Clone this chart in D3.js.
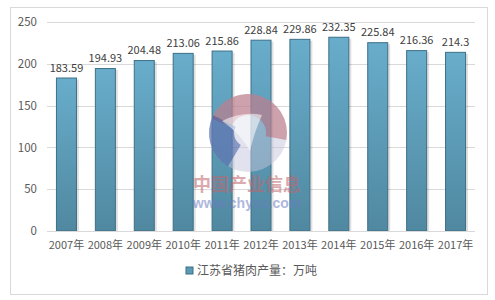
<!DOCTYPE html>
<html>
<head>
<meta charset="utf-8">
<script src="https://cdn.jsdelivr.net/npm/d3@7"></script>
<style>
  body { margin: 0; background: #fff; }
  text { font-family: "Noto Sans CJK SC", "Noto Sans", sans-serif; }
</style>
</head>
<body>
<svg id="chart" width="495" height="300"></svg>
<script>
// data
var years = ["2007年","2008年","2009年","2010年","2011年","2012年","2013年","2014年","2015年","2016年","2017年"];
var output = [183.59, 194.93, 204.48, 213.06, 215.86, 228.84, 229.86, 232.35, 225.84, 216.36, 214.3];
var yTicks = [0, 50, 100, 150, 200, 250];
var seriesName = "江苏省猪肉产量：万吨";

var svg = d3.select("#chart");
var margin = { left: 47, right: 20, top: 22, bottom: 69 };
var width = 495, height = 300;

// outer frame
svg.append("rect")
  .attr("x", 10.5).attr("y", 7.5)
  .attr("width", 477).attr("height", 287)
  .attr("fill", "#fff")
  .attr("stroke", "#d9d9d9");

var defs = svg.append("defs");
var grad = defs.append("linearGradient")
  .attr("id", "barGrad")
  .attr("x1", 0).attr("y1", 0).attr("x2", 0).attr("y2", 1);
grad.append("stop").attr("offset", "0%").attr("stop-color", "#68adcb");
grad.append("stop").attr("offset", "100%").attr("stop-color", "#5088a0");

var x = d3.scaleBand()
  .domain(years)
  .range([margin.left, width - margin.right])
  .paddingInner(0.46)
  .paddingOuter(0.23);

var y = d3.scaleLinear()
  .domain([0, 250])
  .range([height - margin.bottom, margin.top]);

// gridlines
svg.append("g")
  .selectAll("line")
  .data(yTicks)
  .enter()
  .append("line")
  .attr("x1", margin.left)
  .attr("x2", width - margin.right)
  .attr("y1", function (d) { return Math.round(y(d)) + 0.5; })
  .attr("y2", function (d) { return Math.round(y(d)) + 0.5; })
  .attr("stroke", "#d9d9d9");

// y axis labels
var yAxis = d3.axisLeft(y).tickValues(yTicks).tickSize(0).tickPadding(10);
var gy = svg.append("g")
  .attr("transform", "translate(" + margin.left + ",0)")
  .call(yAxis);
gy.select(".domain").remove();
gy.selectAll("text")
  .attr("font-size", 11.5)
  .attr("fill", "#595959")
  .style("font-family", "'Noto Sans CJK SC', sans-serif");

// bars
svg.append("g")
  .selectAll("rect")
  .data(output)
  .enter()
  .append("rect")
  .attr("x", function (d, i) { return x(years[i]) + 2; })
  .attr("y", function (d) { return y(d) + 2; })
  .attr("width", x.bandwidth())
  .attr("height", function (d) { return y(0) - y(d) - 2; })
  .attr("fill", "#000")
  .attr("opacity", 0.12);

svg.append("g")
  .selectAll("rect")
  .data(output)
  .enter()
  .append("rect")
  .attr("x", function (d, i) { return x(years[i]) + 0.5; })
  .attr("y", function (d) { return y(d) + 0.5; })
  .attr("width", x.bandwidth() - 1)
  .attr("height", function (d) { return y(0) - y(d) - 0.5; })
  .attr("fill", "url(#barGrad)")
  .attr("stroke", "#3e6f86")
  .attr("stroke-width", 1);

// value labels
svg.append("g")
  .selectAll("text")
  .data(output)
  .enter()
  .append("text")
  .attr("x", function (d, i) { return x(years[i]) + x.bandwidth() / 2; })
  .attr("y", function (d) { return y(d) - 6; })
  .attr("text-anchor", "middle")
  .attr("font-size", 11)
  .attr("fill", "#404040")
  .text(function (d) { return d; });

// watermark logo
var wm = svg.append("g").attr("transform", "translate(248,133)");
wm.append("circle")
  .attr("r", 39)
  .attr("fill", "#c4c6dc").attr("opacity", 0.5);
var ring = d3.arc();
wm.append("path")
  .attr("d", ring({ innerRadius: 18, outerRadius: 39, startAngle: -1.2, endAngle: 1.75 }))
  .attr("fill", "#b85560").attr("opacity", 0.45);
wm.append("path")
  .attr("d", ring({ innerRadius: 14, outerRadius: 39, startAngle: -2.6, endAngle: -1.1 }))
  .attr("fill", "#2f4f9e").attr("opacity", 0.5);
wm.append("path")
  .attr("d", "M -26 -12 Q -5 -22 14 -18 Q 6 0 2 18 Q -8 0 -26 -12 Z")
  .attr("fill", "#fff").attr("opacity", 0.55);

// watermark text
svg.append("text")
  .attr("x", 247).attr("y", 191)
  .attr("text-anchor", "middle")
  .attr("font-size", 18).attr("font-weight", "bold")
  .attr("fill", "#c0666c").attr("opacity", 0.55)
  .text("中国产业信息");
svg.append("text")
  .attr("x", 247).attr("y", 208)
  .attr("text-anchor", "middle")
  .attr("font-size", 14).attr("font-weight", "bold")
  .attr("fill", "#6c7ec0").attr("opacity", 0.55)
  .style("font-family", "'Liberation Sans', sans-serif")
  .text("www.chyxx.com");

// axis line + x labels
svg.append("line")
  .attr("x1", margin.left).attr("x2", width - margin.right)
  .attr("y1", Math.round(y(0)) + 0.5).attr("y2", Math.round(y(0)) + 0.5)
  .attr("stroke", "#d9d9d9");

var xAxis = d3.axisBottom(x).tickSize(0).tickPadding(10);
var gx = svg.append("g")
  .attr("transform", "translate(0," + y(0) + ")")
  .call(xAxis);
gx.select(".domain").remove();
gx.selectAll("text")
  .attr("font-size", 11)
  .attr("fill", "#595959")
  .style("font-family", "'Noto Sans CJK SC', sans-serif");

// legend
var legend = svg.append("g").attr("transform", "translate(186,267)");
legend.append("rect")
  .attr("width", 7).attr("height", 7)
  .attr("fill", "#5b9ab5")
  .attr("stroke", "#3e6f86");
legend.append("text")
  .attr("x", 11).attr("y", 8)
  .attr("font-size", 12)
  .attr("fill", "#595959")
  .text(seriesName);
</script>
</body>
</html>
